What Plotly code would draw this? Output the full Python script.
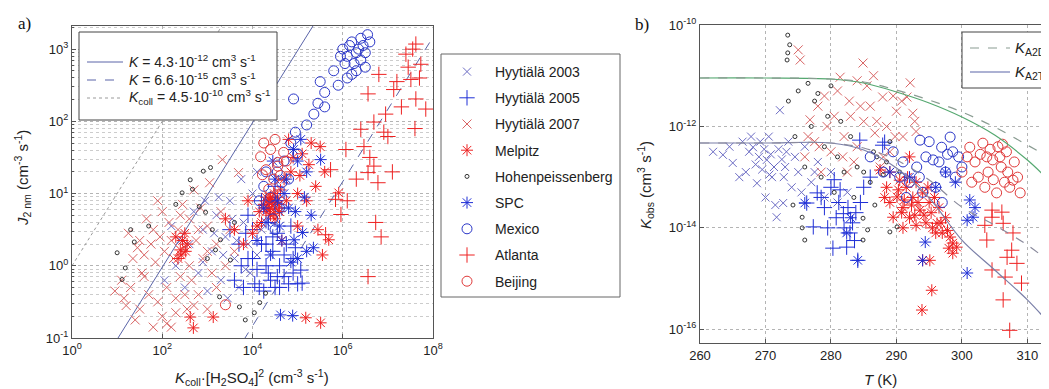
import plotly.graph_objects as go

# page body has an 8px margin, so the figure is drawn 8px smaller and all layout positions shifted
OFF = 8
FW, FH = 1049 - OFF, 389 - OFF

# ================= Panel a data (log10 of x = Kcoll*[H2SO4]^2, log10 of J2nm) =================
a_h03_lx = [2.3, 2.5, 2.6, 2.8, 2.9, 3.0, 3.1, 3.2, 3.3, 3.4, 3.5, 3.6, 3.7, 3.8, 3.9, 4.0, 3.45, 2.7, 3.95, 4.2, 4.4, 4.1, 3.75, 2.05, 2.2,
            2.4, 2.9, 3.15, 3.35, 3.55, 3.25, 3.85, 4.1, 3.65, 2.95]
a_h03_ly = [0.0, -0.3, 0.3, -0.1, 0.5, -0.35, 0.2, 0.7, -0.2, 0.4, 0.9, 0.1, -0.3, 0.6, 0.3, 1.0, -0.45, 0.75, -0.1, 0.5, 0.8, 1.3, 1.2, -0.2, 0.55,
            0.35, 0.05, 0.45, 0.15, 0.65, 0.95, -0.05, 0.15, 0.35, 0.9]

a_h05_lx = [3.6, 3.7, 3.8, 3.9, 4.0, 4.05, 4.1, 4.2, 4.25, 4.3, 4.35, 4.4, 4.45, 4.5, 4.55, 4.6, 4.7, 4.75, 4.8, 4.9, 5.0, 5.1, 4.65, 4.2, 3.5, 3.9, 4.5, 4.85, 5.07,
            3.75, 4.15, 4.35, 4.45, 4.6, 4.7, 4.9, 4.95, 4.3, 4.0, 3.85, 4.55]
a_h05_ly = [-0.2, 0.3, -0.3, 0.1, 0.5, -0.25, -0.05, 0.3, -0.35, 0.0, 0.6, -0.2, 0.2, -0.3, 0.45, 0.0, -0.15, 0.3, -0.25, 0.1, -0.25, -0.24, 0.8, 0.9, 0.5, 0.7, 1.1, 0.55, -0.06,
            0.0, -0.3, -0.1, 0.4, -0.3, 0.15, -0.1, 0.25, 0.3, 0.1, 0.45, -0.15]

a_h07_lx = [0.95, 1.1, 1.2, 1.3, 1.4, 1.5, 1.55, 1.6, 1.7, 1.75, 1.8, 1.85, 1.9, 1.95, 2.0, 2.05, 2.1, 2.15, 2.2, 2.25, 2.3, 2.35, 2.4, 2.45, 2.5, 2.55, 2.6, 2.65, 2.7, 2.75, 2.8, 2.85, 2.9, 3.0, 3.05, 3.1, 3.2, 3.3, 3.4, 3.5, 1.25, 1.45, 1.65, 1.9, 3.33, 3.69,
            1.6, 1.8, 2.0, 2.2, 2.4, 2.6, 2.8, 3.0, 3.2, 2.3, 2.1, 1.35, 1.5, 2.7, 3.6, 3.0, 2.5, 1.15]
a_h07_ly = [-0.35, -0.2, -0.55, -0.3, -0.75, -0.6, -0.1, 0.15, -0.4, 0.3, -0.85, 0.05, -0.5, 0.4, -0.7, 0.2, -0.3, 0.6, -0.85, 0.1, -0.45, 0.5, -0.15, 0.85, 0.25, -0.6, 0.65, -0.2, 1.05, 0.35, -0.4, 0.8, 0.1, 0.55, 1.15, -0.1, 0.3, 0.75, 0.0, 0.5, 0.45, 0.25, 0.65, 0.9, 1.47, 1.29,
            -0.15, 0.5, 0.75, 0.35, 0.7, 0.0, 0.5, 0.2, -0.3, -0.65, -0.8, 0.1, 0.35, -0.55, 0.2, -0.6, -0.4, -0.45]

a_mel_lx = [4.3, 4.35, 4.4, 4.45, 4.5, 4.55, 4.4, 4.5, 4.6, 4.3, 4.2, 4.0, 3.8, 3.6, 4.7, 4.9, 5.1, 5.3, 5.5, 5.6, 5.4, 5.2, 5.0, 5.45, 5.55, 5.91, 5.69, 4.8, 5.0, 4.65, 5.18, 5.51, 2.69, 3.13, 2.62, 2.4, 2.3, 2.5, 2.55, 2.35, 3.4, 3.9,
            4.32, 4.38, 4.42, 4.47, 4.52, 4.37, 4.48, 4.25, 4.58, 4.62, 4.15, 4.75, 4.85, 5.05, 5.25, 4.1, 2.45, 2.42, 2.52]
a_mel_ly = [0.75, 0.85, 0.7, 0.9, 0.8, 0.95, 0.95, 0.65, 0.75, 0.95, 0.6, 0.45, 0.3, 0.5, 1.2, 1.5, 1.55, 1.7, 1.65, 1.3, 1.1, 0.9, 1.0, 0.5, 0.15, 1.01, 0.36, 1.75, 0.55, 0.35, -0.72, -0.79, -0.86, -0.71, -0.71, 0.22, 0.4, 0.45, 0.3, 0.1, 0.65, 0.9,
            0.8, 0.78, 0.88, 0.72, 0.88, 0.92, 1.0, 0.85, 0.85, 1.05, 0.75, 0.9, 1.3, 1.25, 1.4, 0.55, 0.35, 0.15, 0.2]

a_hoh_lx = [1.0, 1.18, 1.38, 1.11, 2.44, 2.67, 2.82, 2.96, 3.11, 3.27, 3.71, 3.84, 4.04, 4.16, 4.29, 2.91, 3.07, 2.62, 3.29, 3.51, 3.18, 1.3, 3.6, 3.0, 2.3, 1.7]
a_hoh_ly = [0.18, -0.03, 0.33, -0.19, 1.01, 1.06, 0.82, 0.74, 0.5, -0.43, -0.57, -0.75, -0.65, -0.51, -0.38, 1.31, 1.36, 1.19, 0.36, 0.08, 0.22, 0.5, 0.6, 0.1, 0.85, 0.55]

a_spc_lx = [5.07, 4.91, 5.0, 5.51, 5.2, 4.5, 4.7, 4.3, 4.6, 4.8, 5.11, 4.92, 5.3, 4.1, 4.62, 4.89, 5.35, 4.4, 5.0, 4.45,
            4.55, 4.75, 4.95, 5.15, 4.25, 4.85, 5.2, 4.65]
a_spc_ly = [1.75, 1.61, 1.45, 1.47, 1.3, 1.2, 1.0, 0.6, 0.55, 0.8, 0.46, 0.36, 0.7, 0.35, -0.68, -0.69, 0.25, 0.15, 0.1, 1.45,
            0.9, 1.2, 0.75, 0.95, 0.8, 0.05, 0.2, 0.35]

a_mex_lx = [6.0, 6.2, 6.35, 6.5, 6.6, 6.4, 6.25, 6.1, 6.55, 6.3, 6.1, 5.9, 5.8, 5.6, 5.5, 5.45, 5.36, 5.6, 4.91, 5.2, 5.0, 4.85, 4.7, 4.55, 4.8, 4.4, 4.6, 4.3, 4.5, 4.15,
            6.15, 6.45, 6.3, 6.05, 6.5, 6.2, 5.95, 6.4, 4.95, 4.65, 4.25, 4.45]
a_mex_ly = [3.0, 3.1, 3.0, 2.95, 3.1, 2.85, 2.8, 2.9, 3.2, 2.7, 2.6, 2.5, 2.7, 2.4, 2.55, 2.25, 2.1, 2.2, 2.31, 1.95, 1.55, 1.7, 1.45, 1.3, 1.2, 0.95, 0.8, 1.3, 0.5, 0.9,
            3.05, 3.05, 2.95, 2.8, 2.75, 2.65, 2.9, 3.15, 1.85, 1.15, 1.1, 0.65]

a_atl_lx = [6.8, 6.56, 7.13, 7.62, 6.69, 6.91, 6.4, 6.47, 7.0, 6.78, 6.56, 6.69, 6.73, 6.56, 7.4, 7.62, 7.73, 7.51, 7.84, 5.73, 6.07, 5.84, 5.96, 5.62, 7.3, 7.7,
            7.45, 7.55, 7.2, 6.95, 6.6, 6.3, 6.1, 6.85, 7.1, 7.6]
a_atl_ly = [2.65, 2.38, 2.44, 2.31, 1.99, 1.85, 1.89, 1.65, 1.79, 1.15, 1.29, 1.38, 0.6, -0.15, 2.93, 3.07, 2.79, 2.58, 2.17, 1.33, 1.61, 0.92, 0.71, 0.43, 2.2, 2.6,
            2.75, 3.0, 2.55, 2.1, 1.5, 1.2, 0.9, 0.4, 1.3, 1.9]

a_bei_lx = [4.4, 4.18, 4.56, 4.69, 4.56, 3.4, 4.25, 4.3, 4.22, 4.47, 4.62, 4.36, 4.75, 4.5]
a_bei_ly = [1.61, 1.51, 1.38, 1.57, 1.43, -0.54, 1.7, 1.33, 1.26, 1.2, 1.25, 1.06, 1.45, 1.75]

# Kinetic coefficients of the reference lines
K_act = 4.3e-12
K_kin = 6.6e-15
K_coll = 4.5e-10
line_x = [1e0, 1e8]
line_labels = ["<i>K</i> = 4.3·10<sup>-12</sup> cm<sup>3</sup> s<sup>-1</sup>",
               "<i>K</i> = 6.6·10<sup>-15</sup> cm<sup>3</sup> s<sup>-1</sup>",
               "<i>K</i><sub>coll</sub> = 4.5·10<sup>-10</sup> cm<sup>3</sup> s<sup>-1</sup>"]

# ================= Panel b data (T in K, log10 Kobs) =================
b_h03_T = [263.5, 265.0, 266.5, 267.0, 268.1, 268.7, 269.0, 269.5, 270.2, 270.5, 271.0, 271.7, 272.0, 272.2, 272.7, 273.0, 273.5, 274.0, 274.5, 275.0, 276.0, 277.0, 278.0, 279.0, 280.0, 281.0, 282.5, 270.0, 271.5, 266.0,
           267.5, 268.5, 269.8, 270.8, 271.3, 272.5, 273.2, 267.8, 269.2, 270.6, 264.5, 262.0, 272.8, 275.5, 277.5]
b_h03_k = [-12.56, -12.72, -12.3, -12.9, -12.41, -13.12, -12.6, -12.85, -12.66, -12.2, -13.0, -13.79, -12.45, -11.68, -13.51, -12.8, -12.3, -13.2, -12.6, -12.9, -12.4, -13.1, -12.7, -13.4, -12.9, -13.5, -13.3, -13.4, -13.55, -13.0,
           -12.5, -12.75, -12.45, -12.55, -12.8, -12.65, -12.5, -12.2, -12.3, -12.95, -12.4, -12.5, -13.0, -13.3, -12.9]

b_h05_T = [276.3, 277.3, 277.9, 279.0, 280.0, 280.3, 280.8, 281.4, 281.9, 282.0, 282.4, 282.9, 283.3, 283.6, 284.1, 284.5, 285.0, 284.4, 287.9, 288.2, 286.0, 279.5,
           281.2, 282.6, 283.8, 280.5, 278.5]
b_h05_k = [-13.51, -13.98, -13.31, -13.6, -13.2, -14.4, -13.8, -13.25, -13.72, -14.0, -14.38, -14.1, -13.9, -14.25, -14.64, -13.5, -13.2, -12.27, -12.37, -12.31, -13.0, -14.0,
           -13.5, -13.6, -13.7, -13.05, -13.4]

b_h07_T = [275.0, 275.3, 276.8, 277.5, 278.0, 279.4, 280.0, 281.0, 281.4, 282.0, 283.0, 284.0, 284.9, 285.5, 286.0, 286.7, 287.5, 287.9, 288.5, 289.0, 290.0, 291.0, 291.6, 292.1, 292.5, 293.0, 278.5, 276.0, 282.5, 285.0, 289.5, 286.5, 284.0,
           279.0, 280.5, 282.8, 283.5, 284.5, 287.0, 288.0, 289.8, 290.8, 292.8, 276.5, 278.2, 281.8]
b_h07_k = [-10.49, -10.69, -11.87, -12.3, -11.6, -12.0, -12.5, -11.3, -11.03, -12.2, -11.8, -12.4, -10.75, -11.2, -11.6, -12.13, -12.8, -11.42, -12.0, -12.5, -11.7, -12.2, -11.42, -11.14, -11.74, -12.1, -12.9, -12.6, -12.9, -11.9, -11.4, -11.0, -11.1,
           -11.4, -11.8, -11.5, -12.7, -11.6, -11.9, -12.6, -12.2, -11.5, -11.9, -12.2, -12.4, -12.6]

b_mel_T = [287.5, 288.5, 289.0, 289.5, 290.1, 290.5, 291.0, 291.5, 292.0, 292.5, 293.0, 293.6, 294.0, 294.5, 295.0, 295.5, 296.2, 296.5, 297.0, 297.5, 298.2, 298.6, 299.2, 298.6, 295.1, 294.0, 295.4, 293.9, 289.0, 292.0, 293.0, 291.0,
           290.3, 291.2, 292.3, 293.3, 294.2, 295.3, 296.0, 294.8, 296.8, 297.8, 292.8, 291.7, 295.8, 298.0, 288.2, 290.8]
b_mel_k = [-12.86, -13.2, -13.5, -13.79, -13.39, -13.06, -13.6, -13.2, -13.8, -13.4, -13.1, -13.65, -13.31, -13.9, -13.5, -14.0, -13.91, -13.6, -14.1, -13.8, -14.18, -14.3, -14.38, -14.5, -14.64, -14.64, -15.23, -15.62, -12.9, -12.6, -13.95, -14.0,
           -13.25, -13.45, -13.55, -13.5, -13.75, -13.7, -14.1, -13.2, -13.9, -14.05, -13.75, -13.0, -13.4, -14.4, -13.4, -13.7]

b_hoh_T = [273.4, 273.7, 273.4, 273.3, 275.6, 275.6, 276.0, 274.2, 284.9, 285.6, 284.9, 286.7, 289.0, 290.1, 273.5, 275.0, 276.5, 278.0, 280.0, 277.0, 279.0, 281.0, 283.0, 285.0, 287.0, 289.0, 286.0, 282.0, 274.5, 276.0, 278.5, 280.5, 288.0,
           277.5, 279.5, 281.5, 284.0, 286.5, 288.5, 290.5, 283.5]
b_hoh_k = [-10.2, -10.39, -10.55, -10.69, -13.79, -14.0, -14.24, -13.55, -13.81, -14.04, -14.24, -13.55, -14.08, -13.98, -11.5, -11.3, -11.15, -11.35, -11.2, -12.0, -12.4, -12.6, -12.2, -12.9, -12.6, -12.3, -13.1, -12.9, -12.2, -12.8, -13.0, -13.3, -12.95,
           -11.5, -11.8, -11.9, -12.8, -12.5, -12.7, -12.9, -13.4]

b_spc_T = [276.0, 282.4, 283.0, 284.1, 294.0, 294.4, 300.8, 301.2, 301.7, 300.8, 292.0, 296.0, 297.5, 289.0, 299.0, 302.0]
b_spc_k = [-13.51, -14.1, -13.8, -14.64, -14.64, -14.28, -13.85, -13.45, -13.79, -14.89, -13.0, -13.2, -12.9, -12.9, -13.1, -13.6]

b_mex_T = [286.0, 288.0, 289.5, 291.0, 292.0, 293.1, 293.6, 294.5, 295.6, 296.9, 297.5, 298.2, 298.6, 299.0, 296.0, 294.0, 291.5, 300.0, 297.0,
           295.0, 296.5, 297.8, 299.5, 293.5, 290.5]
b_mex_k = [-12.6, -12.9, -12.5, -12.7, -13.1, -12.8, -12.27, -12.6, -12.66, -12.41, -12.9, -12.21, -12.5, -13.0, -13.2, -13.3, -13.4, -12.8, -13.5,
           -12.3, -12.7, -12.55, -12.6, -13.0, -13.0]

b_atl_T = [304.6, 306.1, 303.8, 306.3, 307.8, 306.9, 308.4, 304.6, 306.6, 309.1, 306.3, 307.3, 303.5, 304.6, 307.6]
b_atl_k = [-13.79, -13.69, -14.24, -13.91, -14.1, -14.58, -14.7, -14.83, -14.97, -15.09, -15.42, -16.02, -13.95, -13.65, -14.44]

b_bei_T = [300.0, 301.2, 302.0, 302.5, 303.2, 303.8, 304.0, 304.7, 305.3, 305.5, 306.0, 306.5, 307.3, 307.8, 308.9, 306.8, 303.5, 301.5, 308.0,
           302.8, 304.3, 305.8, 307.0, 306.2, 304.8, 308.5, 300.8]
b_bei_k = [-12.9, -12.41, -12.7, -13.0, -12.33, -12.6, -12.9, -12.66, -13.31, -12.4, -12.8, -13.1, -13.2, -13.06, -13.31, -12.5, -13.2, -13.1, -12.7,
           -12.55, -12.45, -12.6, -12.9, -12.35, -13.05, -13.0, -12.6]

# model curves (log10 K vs T)
curve_T = [260, 270, 280, 285, 290, 295, 300, 305, 310, 314]
curve_d2_a = [-11.045, -11.045, -11.065, -11.124, -11.282, -11.479, -11.716, -12.012, -12.367, -12.663]
curve_d2_b = [-11.045, -11.045, -11.065, -11.144, -11.321, -11.538, -11.815, -12.170, -12.663, -13.156]
curve_t2_a = [-12.327, -12.327, -12.327, -12.465, -12.82, -13.41, -14.24, -14.83, -15.42, -15.98]
curve_t2_b = [-12.327, -12.327, -12.327, -12.426, -12.663, -13.057, -13.59, -13.945, -14.339, -14.734]

series_names = ["Hyytiälä 2003", "Hyytiälä 2005", "Hyytiälä 2007", "Melpitz", "Hohenpeissenberg",
                "SPC", "Mexico", "Atlanta", "Beijing"]

# ================= styles =================
BLUE = "#1f2fd6"
RED = "#ee2020"
styles = {
    "Hyytiälä 2003": dict(symbol="x-thin-open", size=8, color="#6c6cc4"),
    "Hyytiälä 2005": dict(symbol="cross-thin-open", size=11, color=BLUE),
    "Hyytiälä 2007": dict(symbol="x-thin-open", size=9, color="#d86464"),
    "Melpitz": dict(symbol="asterisk-open", size=10, color=RED),
    "Hohenpeissenberg": dict(symbol="circle-open", size=4, color="#333333"),
    "SPC": dict(symbol="asterisk-open", size=10, color=BLUE),
    "Mexico": dict(symbol="circle-open", size=10, color="#2a36c8"),
    "Atlanta": dict(symbol="cross-thin-open", size=11, color=RED),
    "Beijing": dict(symbol="circle-open", size=10, color="#e03a3a"),
}

a_data = {
    "Hyytiälä 2003": (a_h03_lx, a_h03_ly),
    "Hyytiälä 2005": (a_h05_lx, a_h05_ly),
    "Hyytiälä 2007": (a_h07_lx, a_h07_ly),
    "Melpitz": (a_mel_lx, a_mel_ly),
    "Hohenpeissenberg": (a_hoh_lx, a_hoh_ly),
    "SPC": (a_spc_lx, a_spc_ly),
    "Mexico": (a_mex_lx, a_mex_ly),
    "Atlanta": (a_atl_lx, a_atl_ly),
    "Beijing": (a_bei_lx, a_bei_ly),
}
b_data = {
    "Hyytiälä 2003": (b_h03_T, b_h03_k),
    "Hyytiälä 2005": (b_h05_T, b_h05_k),
    "Hyytiälä 2007": (b_h07_T, b_h07_k),
    "Melpitz": (b_mel_T, b_mel_k),
    "Hohenpeissenberg": (b_hoh_T, b_hoh_k),
    "SPC": (b_spc_T, b_spc_k),
    "Mexico": (b_mex_T, b_mex_k),
    "Atlanta": (b_atl_T, b_atl_k),
    "Beijing": (b_bei_T, b_bei_k),
}

fig = go.Figure()

LINE_BLUE = "#5a64a8"
line_styles = [(K_act, LINE_BLUE, "solid"), (K_kin, LINE_BLUE, "dash"), (K_coll, "#9a9a9a", "dot")]
# Panel a reference lines  J = (K / Kcoll) * x
for (kv, col, dash), lab in zip(line_styles, line_labels):
    fig.add_trace(go.Scatter(x=line_x, y=[kv / K_coll * v for v in line_x], mode="lines",
                             line=dict(color=col, width=1, dash=dash), name=lab, showlegend=False,
                             xaxis="x", yaxis="y", hoverinfo="skip"))

for nm in series_names:
    st = styles[nm]
    lx, ly = a_data[nm]
    fig.add_trace(go.Scatter(
        x=[10 ** v for v in lx], y=[10 ** v for v in ly], mode="markers", name=nm,
        legendgroup=nm, xaxis="x", yaxis="y",
        marker=dict(symbol=st["symbol"], size=st["size"], color=st["color"],
                    line=dict(color=st["color"], width=1))))

for nm in series_names:
    st = styles[nm]
    T, lk = b_data[nm]
    fig.add_trace(go.Scatter(
        x=T, y=[10 ** v for v in lk], mode="markers", name=nm, showlegend=False,
        legendgroup=nm, xaxis="x2", yaxis="y2",
        marker=dict(symbol=st["symbol"], size=st["size"], color=st["color"],
                    line=dict(color=st["color"], width=1))))

# Panel b model curves
for yv, col, dash in [(curve_d2_b, "#55a870", "solid"), (curve_d2_a, "#8a9c92", "dash"),
                      (curve_t2_a, "#7a7fa8", "solid"), (curve_t2_b, "#8a8a9c", "dash")]:
    fig.add_trace(go.Scatter(x=curve_T, y=[10 ** v for v in yv], mode="lines", showlegend=False,
                             line=dict(color=col, width=1.2, dash=dash, shape="spline"),
                             xaxis="x2", yaxis="y2", hoverinfo="skip"))


def px(x):
    return (x - OFF) / FW


def py(y):
    return 1 - (y - OFF) / FH


FONT = "Liberation Sans, Arial, sans-serif"
GRID = "#b4b4b4"
AX = "#555555"
tickfont = dict(family=FONT, size=13, color="#222")


def sup(e):
    return "10<sup>%d</sup>" % e


common = dict(showline=True, linecolor=AX, linewidth=1, ticks="inside", ticklen=4, tickcolor=AX,
              tickfont=tickfont, zeroline=False, automargin=False, showgrid=True, gridcolor=GRID,
              griddash="dot", gridwidth=1)

layout = dict(
    width=FW, height=FH, margin=dict(l=0, r=0, t=0, b=0, autoexpand=False),
    paper_bgcolor="white", plot_bgcolor="white", font=dict(family=FONT, color="#222"),
    xaxis=dict(type="log", domain=[px(72), px(433)], range=[0, 8], anchor="y", mirror=True,
               tickvals=[10 ** e for e in [0, 2, 4, 6, 8]], ticktext=[sup(e) for e in [0, 2, 4, 6, 8]], **common),
    yaxis=dict(type="log", domain=[py(338), py(26)], range=[-1, 3.32], anchor="x", mirror=True,
               tickvals=[10 ** e for e in [-1, 0, 1, 2, 3]], ticktext=[sup(e) for e in [-1, 0, 1, 2, 3]],
               minor=dict(tickvals=[m * 10 ** e for e in [-1, 0, 1, 2, 3] for m in range(2, 10)],
                          showgrid=True, gridcolor="#cccccc", griddash="dot", ticks="inside",
                          ticklen=2, tickcolor=AX),
               **common),
    xaxis2=dict(domain=[px(700), 1.0], range=[260, 313.3], anchor="y2", mirror=True,
                tickvals=[260, 270, 280, 290, 300, 310], **common),
    yaxis2=dict(type="log", domain=[py(343), py(25)], range=[-16.27, -10], anchor="x2", mirror=False,
                tickvals=[10 ** e for e in [-16, -14, -12, -10]], ticktext=[sup(e) for e in [-16, -14, -12, -10]],
                **common),
    legend=dict(x=px(439), y=py(56), xanchor="left", yanchor="top", bgcolor="rgba(0,0,0,0)",
                borderwidth=0, font=dict(family=FONT, size=14, color="#222"),
                traceorder="grouped", tracegroupgap=5, itemsizing="trace", itemwidth=46,
                itemclick=False),
    showlegend=True,
)

P = dict(xref="paper", yref="paper", showarrow=False)
ann = [
    dict(text="a)", x=px(16), y=py(23), xanchor="left", yanchor="middle",
         font=dict(family="Liberation Serif, serif", size=17, color="#111"), **P),
    dict(text="b)", x=px(633), y=py(25), xanchor="left", yanchor="middle",
         font=dict(family="Liberation Serif, serif", size=17, color="#111"), **P),
    dict(text="<i>J</i><sub>2 nm</sub> (cm<sup>-3</sup> s<sup>-1</sup>)", x=px(22), y=py(178),
         textangle=-90, xanchor="center", yanchor="middle",
         font=dict(family=FONT, size=15, color="#222"), **P),
    dict(text="<i>K</i><sub>coll</sub>·[H<sub>2</sub>SO<sub>4</sub>]<sup>2</sup> (cm<sup>-3</sup> s<sup>-1</sup>)",
         x=px(252), y=py(377), xanchor="center", yanchor="middle",
         font=dict(family=FONT, size=15, color="#222"), **P),
    dict(text="<i>K</i><sub>obs</sub> (cm<sup>3</sup> s<sup>-1</sup>)", x=px(645), y=py(185),
         textangle=-90, xanchor="center", yanchor="middle",
         font=dict(family=FONT, size=15, color="#222"), **P),
    dict(text="<i>T</i> (K)", x=px(880), y=py(379), xanchor="center", yanchor="middle",
         font=dict(family=FONT, size=15, color="#222"), **P),
    # panel b legend (clipped at the right edge as in the reference)
    dict(text="<i>K</i><sub>A2D2</sub>", x=px(1013), y=py(48), xanchor="left",
         yanchor="middle", font=dict(family=FONT, size=15, color="#222"), **P),
    dict(text="<i>K</i><sub>A2T2</sub>", x=px(1013), y=py(72), xanchor="left",
         yanchor="middle", font=dict(family=FONT, size=15, color="#222"), **P),
]
shapes = [
    # series legend box
    dict(type="rect", xref="paper", yref="paper", x0=px(441), x1=px(620), y0=py(297), y1=py(54),
         line=dict(color="#666", width=1), fillcolor="white", layer="above"),
    # panel a line legend box
    dict(type="rect", xref="paper", yref="paper", x0=px(79), x1=px(277), y0=py(120), y1=py(32),
         line=dict(color="#444", width=1), fillcolor="white", layer="above"),
    # panel b legend box
    dict(type="rect", xref="paper", yref="paper", x0=px(962), x1=px(1100), y0=py(88), y1=py(32),
         line=dict(color="#444", width=1), fillcolor="white", layer="above"),
    dict(type="line", xref="paper", yref="paper", x0=px(970), x1=px(1010), y0=py(48), y1=py(48),
         line=dict(color="#8a9c92", width=1.2, dash="dash"), layer="above"),
    dict(type="line", xref="paper", yref="paper", x0=px(970), x1=px(1010), y0=py(72), y1=py(72),
         line=dict(color=LINE_BLUE, width=1.2), layer="above"),
]
for i, ((kv, col, dash), lab) in enumerate(zip(line_styles, line_labels)):
    yy = 62 + 18 * i
    shapes.append(dict(type="line", xref="paper", yref="paper", x0=px(87), x1=px(123), y0=py(yy), y1=py(yy),
                       line=dict(color=col, width=1, dash=dash), layer="above"))
    ann.append(dict(text=lab, x=px(127), y=py(yy - 1), xanchor="left", yanchor="middle",
                    font=dict(family=FONT, size=14, color="#222"), **P))

layout["annotations"] = ann
layout["shapes"] = shapes
fig.update_layout(**layout)

fig.write_html("out.html")
